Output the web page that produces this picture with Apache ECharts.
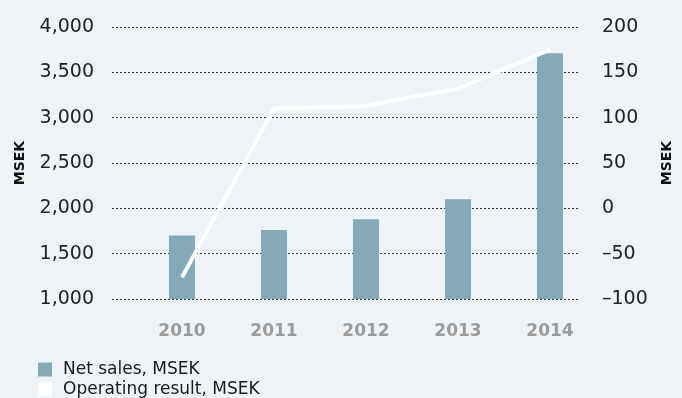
<!DOCTYPE html>
<html>
<head>
<meta charset="utf-8">
<script src="https://cdn.jsdelivr.net/npm/echarts@6/dist/echarts.min.js"></script>
<style>
  html, body { margin: 0; padding: 0; background: #eef3f7; }
  #chart { width: 682px; height: 398px; }
</style>
</head>
<body>
<div id="chart"></div>
<script>
// Years and figures (MSEK)
const years = ['2010', '2011', '2012', '2013', '2014'];
const netSales = [1700, 1760, 1880, 2100, 3710];
const operatingResult = [-76, 110, 113, 132, 175];
const salesTicks = { min: 1000, max: 4000, step: 500 };
const resultTicks = { min: -100, max: 200, step: 50 };
const seriesNames = ['Net sales, MSEK', 'Operating result, MSEK'];

const font = 'DejaVu Sans';
const chart = echarts.init(document.getElementById('chart'));

const hiddenY = (t) => ({
  type: 'value', gridIndex: 1, min: t.min, max: t.max, interval: t.step,
  show: false, splitLine: { show: false }
});

// one legend row per series, stacked under the chart
const legendRow = (name, top) => ({
  left: 38,
  top: top,
  padding: 0,
  itemWidth: 14,
  itemHeight: 14,
  icon: 'rect',
  textStyle: { fontFamily: font, fontSize: 17, color: '#1a1a1a', padding: [0, 0, 0, 6] },
  data: [name]
});

chart.setOption({
  backgroundColor: '#eef3f7',
  animation: false,
  textStyle: { fontFamily: font },
  legend: [legendRow(seriesNames[0], 361), legendRow(seriesNames[1], 381)],
  grid: [
    { left: 112, right: 94, top: 27, bottom: 99 },
    { left: 136, right: 86, top: 27, bottom: 99 }
  ],
  xAxis: [
    { type: 'category', gridIndex: 0, data: years, show: false },
    {
      type: 'category', gridIndex: 1, data: years,
      axisLine: { show: false }, axisTick: { show: false },
      axisLabel: { fontFamily: font, fontSize: 17, fontWeight: 'bold', color: '#9b9b9b', margin: 24 }
    }
  ],
  yAxis: [
    {
      type: 'value', gridIndex: 0, position: 'left',
      min: salesTicks.min, max: salesTicks.max, interval: salesTicks.step,
      name: 'MSEK', nameLocation: 'middle', nameRotate: 90, nameGap: 85,
      nameTextStyle: { fontFamily: font, fontSize: 14, fontWeight: 'bold', color: '#111' },
      axisLine: { show: false }, axisTick: { show: false },
      axisLabel: {
        fontFamily: font, fontSize: 19, color: '#222', margin: 18,
        formatter: (v) => v.toLocaleString('en-US')
      },
      splitLine: { lineStyle: { color: '#333', width: 1, type: [2, 2] } }
    },
    {
      type: 'value', gridIndex: 0, position: 'right',
      min: resultTicks.min, max: resultTicks.max, interval: resultTicks.step,
      name: 'MSEK', nameLocation: 'middle', nameRotate: 90, nameGap: 82,
      nameTextStyle: { fontFamily: font, fontSize: 14, fontWeight: 'bold', color: '#111' },
      axisLine: { show: false }, axisTick: { show: false },
      axisLabel: {
        fontFamily: font, fontSize: 19, color: '#222', margin: 24,
        formatter: (v) => (v < 0 ? '\u2013' + Math.abs(v) : String(v))
      },
      splitLine: { show: false }
    },
    hiddenY(salesTicks),
    hiddenY(resultTicks)
  ],
  series: [
    {
      name: seriesNames[0],
      type: 'bar',
      xAxisIndex: 1, yAxisIndex: 2,
      data: netSales,
      barWidth: 26,
      itemStyle: { color: '#86a9b8' }
    },
    {
      name: seriesNames[1],
      type: 'line',
      xAxisIndex: 1, yAxisIndex: 3,
      data: operatingResult,
      symbol: 'none',
      itemStyle: { color: '#ffffff' },
      lineStyle: { color: '#ffffff', width: 4 }
    }
  ]
});
</script>
</body>
</html>
